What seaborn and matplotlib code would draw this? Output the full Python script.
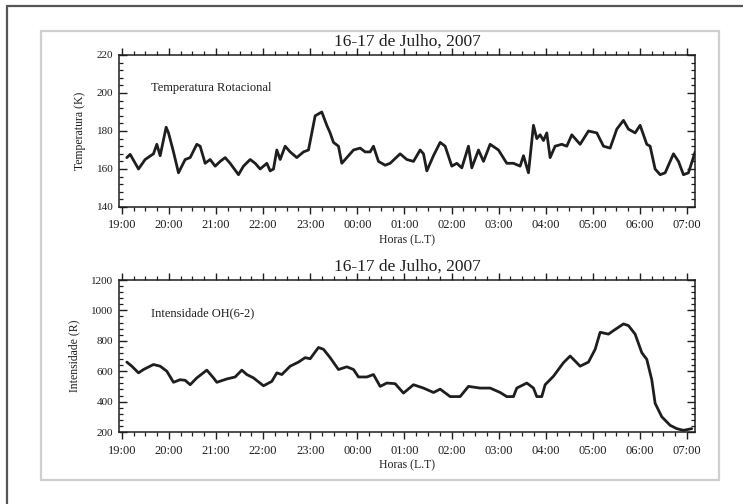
import pandas as pd
import matplotlib
matplotlib.use("Agg")
import matplotlib.pyplot as plt
from matplotlib.ticker import MultipleLocator, FixedLocator
from matplotlib.lines import Line2D
from matplotlib.patches import Rectangle
import seaborn as sns

# Hour tick labels (local time), 19:00 on the 16th to 07:00 on the 17th
hour_labels = ["19:00", "20:00", "21:00", "22:00", "23:00", "00:00", "01:00",
               "02:00", "03:00", "04:00", "05:00", "06:00", "07:00"]

# Rotational temperature (K) vs hours elapsed since 19:00 LT
temp_hours = [0.106, 0.177, 0.354, 0.495, 0.672, 0.743, 0.814, 0.941, 0.991, 1.097,
              1.203, 1.345, 1.451, 1.592, 1.663, 1.769, 1.875, 1.982, 2.088, 2.194,
              2.300, 2.477, 2.583, 2.725, 2.831, 2.937, 3.079, 3.149, 3.220, 3.291,
              3.362, 3.468, 3.574, 3.715, 3.857, 3.963, 4.105, 4.246, 4.352, 4.423,
              4.494, 4.600, 4.671, 4.777, 4.919, 5.060, 5.166, 5.272, 5.343, 5.449,
              5.591, 5.697,
              5.909, 6.051, 6.193, 6.334, 6.405, 6.476, 6.617, 6.759, 6.865, 7.006,
              7.113, 7.219, 7.360, 7.431, 7.573, 7.679, 7.820, 7.997, 8.174, 8.316,
              8.457, 8.528, 8.634, 8.740, 8.811, 8.882, 8.953, 9.023, 9.094, 9.200,
              9.342, 9.448, 9.554, 9.731, 9.908, 10.085, 10.227, 10.368, 10.510, 10.651,
              10.757, 10.899, 11.005, 11.146, 11.217, 11.323, 11.430, 11.536, 11.713, 11.819,
              11.925, 12.031, 12.173]
temp_values = [166, 167.7, 160, 165, 168, 173, 167, 182, 179, 169,
               158, 165, 166, 173, 172, 163, 165, 161.5, 164, 166,
               163, 157, 161.5, 165, 163, 160, 163, 159, 160, 170,
               165, 172, 169, 166, 169, 170, 188, 190, 183, 179,
               174, 172, 163, 166, 170, 171, 169, 169, 172, 164,
               162, 163,
               168, 165, 164, 170, 168, 159, 167, 174, 172, 161.5,
               163, 160.6, 172, 160.6, 170, 164, 173, 170, 163, 163,
               161.5, 167, 158, 183, 176, 178, 175, 179, 166, 172,
               173, 172, 178, 173, 180, 179, 172, 171, 181, 185.6,
               181, 179, 183, 173, 172, 160, 157, 158, 168, 164,
               157, 158, 169]

# OH(6-2) band intensity (R) vs hours elapsed since 19:00 LT
int_hours = [0.106, 0.212, 0.354, 0.460, 0.672, 0.814, 0.955, 1.097, 1.238, 1.345,
             1.451, 1.592, 1.805, 1.946, 2.017, 2.229, 2.406, 2.548, 2.654, 2.795,
             3.008, 3.185, 3.291, 3.397, 3.574, 3.751, 3.892, 3.999, 4.175, 4.282,
             4.423, 4.600, 4.777, 4.919, 5.025, 5.202, 5.343,
             5.485, 5.626, 5.803, 5.980, 6.193, 6.405, 6.617, 6.759, 6.971, 7.183,
             7.360, 7.608, 7.820, 8.033, 8.174, 8.316, 8.386, 8.599, 8.740, 8.811,
             8.917, 8.988, 9.165, 9.377, 9.519, 9.731, 9.908, 10.050, 10.156, 10.333,
             10.439, 10.651, 10.757, 10.899, 11.040, 11.146, 11.252, 11.323, 11.465, 11.642,
             11.783, 11.925, 12.102]
int_values = [660, 633, 589, 611, 644, 633, 600, 527, 544, 540,
              511, 556, 607, 556, 527, 549, 562, 607, 578, 556,
              504, 533, 589, 578, 633, 660, 689, 682, 756, 744,
              689, 611, 629, 611, 562, 562, 578,
              500, 522, 518, 456, 511, 489, 460, 482, 433, 433,
              500, 489, 489, 460, 433, 433, 489, 522, 489, 433,
              433, 511, 567, 656, 700, 633, 660, 744, 856, 844,
              867, 911, 900, 844, 722, 678, 544, 389, 300, 244,
              222, 211, 222]

temp_df = pd.DataFrame({"hora": temp_hours, "valor": temp_values})
int_df = pd.DataFrame({"hora": int_hours, "valor": int_values})

sns.set_theme(style="ticks")
plt.rcParams["font.family"] = ["Liberation Serif", "DejaVu Serif"]
plt.rcParams["axes.linewidth"] = 1.1
ink = "#1e1e1e"

fig = plt.figure(figsize=(7.43, 5.04), dpi=100)
fig.patch.set_facecolor("white")

# page border lines and the light frame around the figure panel
fig.add_artist(Line2D([7 / 743, 1.0], [1 - 6 / 504, 1 - 6 / 504], color="#555555", lw=1.6))
fig.add_artist(Line2D([7 / 743, 7 / 743], [0.0, 1 - 6 / 504], color="#555555", lw=1.6))
fig.add_artist(Rectangle((41 / 743, 1 - 480 / 504), (719 - 41) / 743, (480 - 31) / 504,
                         transform=fig.transFigure, fill=False, edgecolor="#cfcfcf", lw=1.6))

ax_t = fig.add_axes([119 / 743, 1 - 207 / 504, (695 - 119) / 743, 152 / 504])
ax_i = fig.add_axes([119 / 743, 1 - 432 / 504, (695 - 119) / 743, 152 / 504])

sns.lineplot(data=temp_df, x="hora", y="valor", ax=ax_t, color=ink, lw=2.0,
             sort=False, estimator=None)
sns.lineplot(data=int_df, x="hora", y="valor", ax=ax_i, color=ink, lw=2.0,
             sort=False, estimator=None)

panels = [
    (ax_t, (140, 220), 20, 4, "Temperatura (K)", "Temperatura Rotacional"),
    (ax_i, (200, 1200), 200, 40, "Intensidade (R)", "Intensidade OH(6-2)"),
]
for ax, ylim, major, minor, ylab, note in panels:
    ax.set_xlim(-0.06, 12.17)
    ax.set_ylim(*ylim)
    ax.xaxis.set_major_locator(FixedLocator(range(len(hour_labels))))
    ax.set_xticklabels(hour_labels)
    ax.xaxis.set_minor_locator(MultipleLocator(0.25))
    ax.yaxis.set_major_locator(MultipleLocator(major))
    ax.yaxis.set_minor_locator(MultipleLocator(minor))
    ax.tick_params(axis="x", which="both", direction="out", top=True, bottom=True,
                   labelsize=9, colors=ink, pad=4)
    ax.tick_params(axis="x", which="major", length=5, width=1.0)
    ax.tick_params(axis="x", which="minor", length=3, width=0.9)
    ax.tick_params(axis="y", which="both", direction="in", left=True, right=True,
                   labelsize=8, colors=ink, pad=4)
    ax.tick_params(axis="y", which="major", length=6, width=1.0)
    ax.tick_params(axis="y", which="minor", length=3, width=0.9)
    for s in ax.spines.values():
        s.set_visible(True)
        s.set_color(ink)
    ax.set_xlabel("Horas (L.T)", fontsize=8.5, color=ink, labelpad=2)
    ax.set_ylabel(ylab, fontsize=8.5, color=ink, labelpad=8)
    ax.set_title("16-17 de Julho, 2007", fontsize=12.5, color=ink, pad=7)
    ax.text(0.055, 0.78, note, transform=ax.transAxes, fontsize=9, color=ink,
            ha="left", va="center")
    ax.grid(False)

fig.savefig("out.png", dpi=100)
